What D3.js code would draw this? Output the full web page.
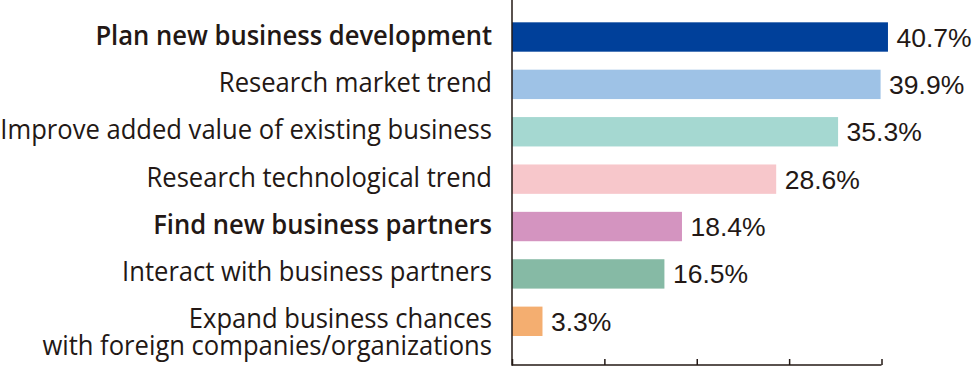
<!DOCTYPE html>
<html>
<head>
<meta charset="utf-8">
<script src="https://cdn.jsdelivr.net/npm/d3@7"></script>
<style>
  html, body { margin: 0; padding: 0; background: #fff; }
  svg { display: block; }
</style>
</head>
<body>
<svg id="chart" width="977" height="368"></svg>
<script>
const categories = [
  ["Plan new business development"],
  ["Research market trend"],
  ["Improve added value of existing business"],
  ["Research technological trend"],
  ["Find new business partners"],
  ["Interact with business partners"],
  ["Expand business chances", "with foreign companies/organizations"]
];
const boldLabels = [true, false, false, false, true, false, false];
const values = [40.7, 39.9, 35.3, 28.6, 18.4, 16.5, 3.3];
const valueLabels = ["40.7%", "39.9%", "35.3%", "28.6%", "18.4%", "16.5%", "3.3%"];
const barColors = ["#00409a", "#9ec2e6", "#a5d8d1", "#f7c7cb", "#d494c0", "#86baa5", "#f4ae70"];
const xTicks = [0, 10, 20, 30, 40];

const ink = "#231815";
const svg = d3.select("#chart");

const x0 = 512, x1 = 881.5, axisY = 365;
const x = d3.scaleLinear().domain([0, 40]).range([x0, x1]);
const idx = d3.range(values.length);
const y = d3.scaleBand().domain(idx).range([8.1, 350.2]).paddingInner(0.38).paddingOuter(0.3);

// bars
svg.append("g").selectAll("rect").data(idx).join("rect")
  .attr("x", x(0))
  .attr("y", i => y(i))
  .attr("width", i => x(values[i]) - x(0))
  .attr("height", y.bandwidth())
  .attr("fill", i => barColors[i]);

// value labels
svg.append("g").selectAll("text").data(idx).join("text")
  .attr("x", i => x(values[i]) + 8.5)
  .attr("y", i => y(i) + y.bandwidth() / 2 + 9.5)
  .attr("font-family", "'Liberation Sans', Arial, sans-serif")
  .attr("font-size", 26.5)
  .attr("fill", ink)
  .text(i => valueLabels[i]);

// category labels
const labelG = svg.append("g");
const labelRight = 492;
const labels = labelG.selectAll("text").data(idx).join("text")
  .attr("font-family", "'Open Sans', sans-serif")
  .attr("font-size", 27.5)
  .attr("font-weight", i => boldLabels[i] ? 600 : 400)
  .attr("fill", ink)
  .attr("text-anchor", "end");
labels.each(function(i) {
  const t = d3.select(this);
  const lines = categories[i];
  const c = y(i) + y.bandwidth() / 2;
  lines.forEach((ln, k) => {
    t.append("tspan").attr("x", 0).attr("y", k * 27.5).text(ln);
  });
  t.attr("data-base", lines.length > 1 ? c + 6.5 : c + 7.5);
});
// compress horizontally to match reference font width
let maxW = 0;
labels.each(function(i) { if (i === 2) maxW = this.getComputedTextLength(); });
const sx = maxW > 0 ? 492 / maxW : 1;
labels.attr("transform", function() {
  return `translate(${labelRight},${d3.select(this).attr("data-base")}) scale(${sx},1)`;
});

// axes
const bottom = d3.axisBottom(x).tickValues(xTicks).tickSize(-6).tickFormat("");
const gx = svg.append("g").attr("transform", `translate(0,${axisY})`).call(bottom);
gx.select(".domain").attr("stroke", ink).attr("stroke-width", 1.5).attr("d", `M${x0},0H${x1}`);
gx.selectAll(".tick line").attr("stroke", ink).attr("stroke-width", 1.5);

svg.append("line")
  .attr("x1", x0).attr("x2", x0).attr("y1", 0).attr("y2", axisY + 0.75)
  .attr("stroke", ink).attr("stroke-width", 1.5);
</script>
</body>
</html>
